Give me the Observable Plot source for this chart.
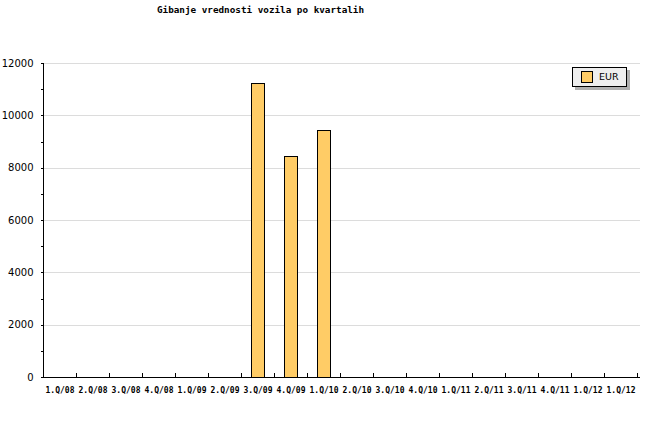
<!DOCTYPE html>
<html><head><meta charset="utf-8">
<script src="https://cdn.jsdelivr.net/npm/d3@7"></script>
<script src="https://cdn.jsdelivr.net/npm/@observablehq/plot@0.6"></script>
<style>
body{margin:0;background:#fff;}
#wrap{position:relative;width:660px;height:440px;}
#title{position:absolute;left:0;top:4px;width:521px;text-align:center;font:bold 9.3px "DejaVu Sans Mono",monospace;color:#000;}
#legend{position:absolute;left:572px;top:67px;width:55px;height:20px;background:#eee;border:1px solid #000;box-sizing:border-box;box-shadow:3px 3px 0 #b0b0b0;font:9.5px "DejaVu Sans",sans-serif;}
#legend .sw{position:absolute;left:8px;top:3px;width:10px;height:10px;background:#ffcc66;border:1px solid #000;}
#legend .lb{position:absolute;left:26px;top:3px;}
#chart svg rect, #chart svg line, #chart svg path{shape-rendering:crispEdges;}
</style></head>
<body><div id="wrap"><div id="title">Gibanje vrednosti vozila po kvartalih</div><div id="chart"></div><div id="legend"><div class="sw"></div><div class="lb">EUR</div></div></div>
<script>
const quarters = ["1.Q/08","2.Q/08","3.Q/08","4.Q/08","1.Q/09","2.Q/09","3.Q/09","4.Q/09","1.Q/10","2.Q/10","3.Q/10","4.Q/10","1.Q/11","2.Q/11","3.Q/11","4.Q/11","1.Q/12","1.Q/12"];
const eur = [0,0,0,0,0,0,11220,8430,9430,0,0,0,0,0,0,0,0,0];
const yTicks = [0,2000,4000,6000,8000,10000,12000];
const yMinor = d3.range(0,12001,1000);

const keys = quarters.map((q,i)=>String(i));
const data = keys.map((k,i)=>({k, v: eur[i]}));
const W = 660, H = 440, mL = 41, mR = 20, mT = 63, mB = 63;
const step = (W - mL - mR) / keys.length;
const innerH = H - mT - mB;

const chart = Plot.plot({
  width: W, height: H,
  marginLeft: mL, marginRight: mR, marginTop: mT, marginBottom: mB,
  style: {background: "#fff", overflow: "visible"},
  x: {type: "band", domain: keys, paddingInner: 0.6, paddingOuter: 0.3, align: 0.5, label: null},
  y: {domain: [0, 12000], label: null},
  marks: [
    Plot.gridY(yTicks.filter(d=>d>0), {stroke: "#dcdcdc", strokeOpacity: 1}),
    Plot.barY(data.filter(d=>d.v>0), {x: "k", y: "v", fill: "#ffcc66", stroke: "#000", strokeWidth: 1}),
    Plot.ruleX(keys, {x: d=>d, dx: step/2, insetTop: innerH - 4, stroke: "#000"}),
    Plot.axisX({tickSize: 0, tickPadding: 10, tickFormat: k => quarters[+k], fontFamily: "DejaVu Sans Mono", fontSize: 8, fontWeight: "bold", label: null}),
    Plot.axisY({ticks: yTicks, tickSize: 0, tickPadding: 8, tickFormat: d=>String(d), fontFamily: "DejaVu Sans", fontSize: 10, label: null}),
    Plot.tickY(yMinor, {y: d=>d, stroke: "#000", insetRight: W - mL - mR - 3}),
    Plot.ruleY([0], {stroke: "#000"}),
    Plot.ruleX([keys[0]], {x: d=>d, dx: -step/2, stroke: "#000"})
  ]
});
document.getElementById("chart").appendChild(chart);
</script></body></html>
